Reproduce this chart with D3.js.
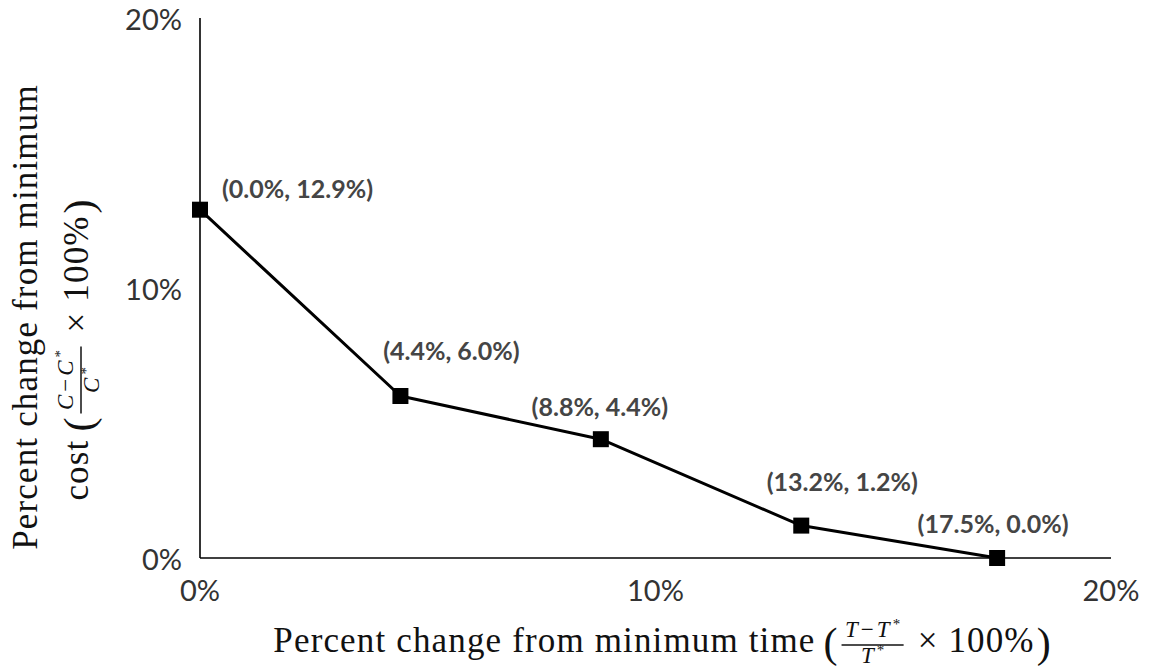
<!DOCTYPE html>
<html>
<head>
<meta charset="utf-8">
<script src="https://cdn.jsdelivr.net/npm/d3@7"></script>
<style>
  html, body { margin: 0; padding: 0; background: #fff; }
  svg { display: block; }
  .tick-label { font-family: Lato, "Open Sans", sans-serif; font-size: 29px; fill: #333; }
  .pt-label { font-family: Lato, "Open Sans", sans-serif; font-size: 25px; font-weight: bold; fill: #454545; }
  .title { font-family: "Liberation Serif", "DejaVu Serif", serif; font-size: 35px; letter-spacing: 1.15px; fill: #111; }
  .paren { font-family: "Liberation Serif", "DejaVu Serif", serif; font-size: 42px; fill: #111; }
  .frac { font-family: "Liberation Serif", "DejaVu Serif", serif; font-size: 23px; letter-spacing: 3px; fill: #111; }
</style>
</head>
<body>
<svg id="chart" width="1149" height="668"></svg>
<script>
// Trade-off between time and cost (percent change from the optimum of each)
const timeChange = [0.0, 4.4, 8.8, 13.2, 17.5];   // x, %
const costChange = [12.9, 6.0, 4.4, 1.2, 0.0];    // y, %
const xTicks = [0, 10, 20];
const yTicks = [0, 10, 20];

// label placement relative to each marker (dx, dy, anchor)
const labelOffsets = [
  [22, -22, "start"],
  [51, -46, "middle"],
  [-1, -33, "middle"],
  [41, -45, "middle"],
  [-4, -35, "middle"]
];

const svg = d3.select("#chart");
const x = d3.scaleLinear().domain([0, 20]).range([200, 1111]);
const y = d3.scaleLinear().domain([0, 20]).range([558, 18]);

// axis lines
svg.append("line").attr("x1", x(0)).attr("x2", x(0)).attr("y1", y(0)).attr("y2", y(20))
  .attr("stroke", "#000").attr("stroke-width", 1.6);
svg.append("line").attr("x1", x(0)).attr("x2", x(20)).attr("y1", y(0)).attr("y2", y(0))
  .attr("stroke", "#000").attr("stroke-width", 1.6);

// tick labels
svg.selectAll(".ytl").data(yTicks).enter().append("text")
  .attr("class", "tick-label").attr("x", 182).attr("y", d => y(d))
  .attr("text-anchor", "end").attr("dominant-baseline", "central")
  .text(d => d + "%");
svg.selectAll(".xtl").data(xTicks).enter().append("text")
  .attr("class", "tick-label").attr("x", d => x(d)).attr("y", 589)
  .attr("text-anchor", "middle").attr("dominant-baseline", "central")
  .text(d => d + "%");

const pts = timeChange.map((t, i) => ({ t, c: costChange[i], off: labelOffsets[i] }));

// line
svg.append("path").datum(pts)
  .attr("d", d3.line().x(d => x(d.t)).y(d => y(d.c)))
  .attr("fill", "none").attr("stroke", "#000").attr("stroke-width", 3)
  .attr("stroke-linejoin", "round");

// markers
const ms = 16;
svg.selectAll(".mk").data(pts).enter().append("rect")
  .attr("x", d => x(d.t) - ms / 2).attr("y", d => y(d.c) - ms / 2)
  .attr("width", ms).attr("height", ms).attr("fill", "#000");

// value labels
svg.selectAll(".pl").data(pts).enter().append("text")
  .attr("class", "pt-label")
  .attr("x", d => x(d.t) + d.off[0]).attr("y", d => y(d.c) + d.off[1])
  .attr("text-anchor", d => d.off[2]).attr("dominant-baseline", "central")
  .text(d => `(${d.t.toFixed(1)}%, ${d.c.toFixed(1)}%)`);

// Builds "prefix ((A−A*)/A* × 100%)" with a stacked fraction and tall parentheses, centred on 0
function mathTitle(parent, pre, sym) {
  const g = parent.append("g");
  const pieces = g.append("g");
  let cx = 0;
  const addText = (cls, str, dy) => {
    const t = pieces.append("text").attr("class", cls).attr("x", cx).attr("y", dy).text(str);
    cx += t.node().getComputedTextLength();
    return t;
  };
  addText("title", pre, 0);
  cx += 8;
  addText("paren", "(", 5);
  cx += 4;

  const num = pieces.append("text").attr("class", "frac").attr("y", -15);
  num.append("tspan").attr("font-style", "italic").text(sym);
  num.append("tspan").text("\u2212");
  num.append("tspan").attr("font-style", "italic").text(sym);
  num.append("tspan").attr("font-size", "15px").attr("dy", -8).text("*");
  const den = pieces.append("text").attr("class", "frac").attr("y", 11);
  den.append("tspan").attr("font-style", "italic").text(sym);
  den.append("tspan").attr("font-size", "15px").attr("dy", -8).text("*");
  const nw = num.node().getComputedTextLength();
  const dw = den.node().getComputedTextLength();
  const fw = Math.max(nw, dw) + 4;
  num.attr("x", cx + (fw - nw) / 2 + 1.5);
  den.attr("x", cx + (fw - dw) / 2 + 1.5);
  pieces.append("line").attr("x1", cx).attr("x2", cx + fw).attr("y1", -7).attr("y2", -7)
    .attr("stroke", "#111").attr("stroke-width", 1.5);
  cx += fw + 14;

  addText("title", "\u00d7 100%", 0);
  cx += 2;
  addText("paren", ")", 5);
  pieces.attr("transform", `translate(${-cx / 2},0)`);
  return g;
}

// x-axis title
mathTitle(svg, "Percent change from minimum time", "T")
  .attr("transform", "translate(662,652)");

// y-axis title (two lines, rotated)
svg.append("text").attr("class", "title")
  .attr("text-anchor", "middle")
  .attr("transform", "translate(37,317) rotate(-90)")
  .text("Percent change from minimum");
mathTitle(svg, "cost", "C")
  .attr("transform", "translate(88,350) rotate(-90)");
</script>
</body>
</html>
